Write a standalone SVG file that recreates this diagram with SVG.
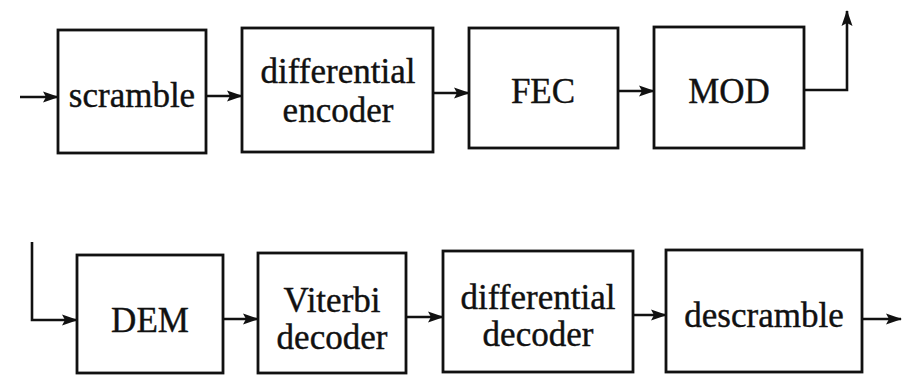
<svg xmlns="http://www.w3.org/2000/svg" width="904" height="378" viewBox="0 0 904 378">
<style>
.box{fill:#fff;stroke:#111;stroke-width:2.8}
.t{font-family:"Liberation Serif","Times New Roman",serif;font-size:35px;fill:#111;text-anchor:middle;stroke:#111;stroke-width:0.4}
.c{fill:none;stroke:#111;stroke-width:2.6}
</style>
<defs>
<marker id="ah" markerWidth="16" markerHeight="12" refX="15" refY="6" orient="auto" markerUnits="userSpaceOnUse">
<path d="M0,0.5 L16,6 L0,11.5 L3,6 Z" fill="#111"/>
</marker>
</defs>
<rect width="904" height="378" fill="#fff"/>
<g id="connectors">
<path class="c" d="M20,97 H58" marker-end="url(#ah)"/>
<path class="c" d="M206,96 H242" marker-end="url(#ah)"/>
<path class="c" d="M433,93 H469" marker-end="url(#ah)"/>
<path class="c" d="M618,91 H654" marker-end="url(#ah)"/>
<path class="c" d="M804,90 H847 V11" marker-end="url(#ah)"/>
<path class="c" d="M32,242 V320 H77" marker-end="url(#ah)"/>
<path class="c" d="M223,319 H258" marker-end="url(#ah)"/>
<path class="c" d="M406,317 H443" marker-end="url(#ah)"/>
<path class="c" d="M633,315 H666" marker-end="url(#ah)"/>
<path class="c" d="M862,319 H901" marker-end="url(#ah)"/>
</g>
<g id="scramble"><rect class="box" x="58" y="30" width="148" height="123"/><text class="t" x="132" y="107">scramble</text></g>
<g id="diff-encoder"><rect class="box" x="242" y="28" width="191" height="124"/><text class="t" x="338" y="83">differential</text><text class="t" x="338" y="122">encoder</text></g>
<g id="fec"><rect class="box" x="469" y="28" width="149" height="120"/><text class="t" x="543" y="103">FEC</text></g>
<g id="mod"><rect class="box" x="654" y="27" width="150" height="121"/><text class="t" x="729" y="103">MOD</text></g>
<g id="dem"><rect class="box" x="77" y="255" width="146" height="118"/><text class="t" x="150" y="332">DEM</text></g>
<g id="viterbi"><rect class="box" x="258" y="253" width="148" height="120"/><text class="t" x="332" y="312">Viterbi</text><text class="t" x="332" y="349">decoder</text></g>
<g id="diff-decoder"><rect class="box" x="443" y="251" width="190" height="121"/><text class="t" x="538" y="309">differential</text><text class="t" x="538" y="346">decoder</text></g>
<g id="descramble"><rect class="box" x="666" y="250" width="196" height="122"/><text class="t" x="764" y="327">descramble</text></g>
</svg>
